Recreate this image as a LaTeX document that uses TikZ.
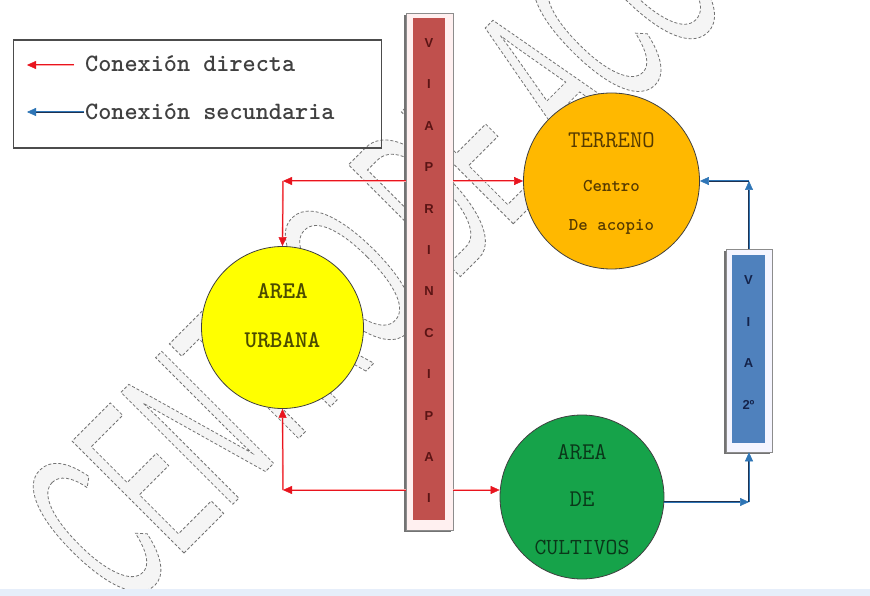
\documentclass[tikz,border=0pt]{standalone}
\usepackage{fontspec}
\setmainfont{Liberation Mono}
\newfontfamily\sansf{Liberation Sans}
\newfontfamily\wmfont[FakeStretch=0.45]{Liberation Sans}
\usetikzlibrary{arrows.meta,shadows}
\definecolor{vpred}{RGB}{192,80,77}
\definecolor{vpletter}{RGB}{90,20,20}
\definecolor{vsblue}{RGB}{79,129,189}
\definecolor{vsletter}{RGB}{20,35,75}
\definecolor{terr}{RGB}{255,184,0}
\definecolor{urb}{RGB}{255,255,0}
\definecolor{cult}{RGB}{22,163,74}
\definecolor{arrred}{RGB}{232,20,30}
\definecolor{arrblue}{RGB}{46,117,182}
\definecolor{navy}{RGB}{30,50,80}
\definecolor{terrtxt}{RGB}{85,58,0}
\definecolor{urbtxt}{RGB}{75,75,0}
\definecolor{culttxt}{RGB}{10,55,25}
\definecolor{bottomband}{RGB}{230,238,250}
\tikzset{
  area/.style={circle, draw=black!75, line width=0.8pt, inner sep=0pt},
  redarrow/.style={draw=red!35, double=arrred, double distance=1pt, line width=0.4pt,
    -{Triangle[length=9pt,width=8pt,fill=arrred,color=arrred]}},
  bluearrow/.style={draw=navy, double=arrblue, double distance=1pt, line width=0.5pt,
    -{Triangle[length=9pt,width=8pt,fill=arrblue,color=arrblue]}},
  barout/.style={rectangle, fill=red!6, draw=black!45, line width=0.6pt, inner sep=0pt,
    drop shadow={shadow xshift=-2pt, shadow yshift=-2pt, fill=black!55, opacity=1}},
  barout2/.style={rectangle, fill=blue!4, draw=black!45, line width=0.6pt, inner sep=0pt,
    drop shadow={shadow xshift=-2pt, shadow yshift=-2pt, fill=black!55, opacity=1}},
  vpletterst/.style={font=\sansf\bfseries\fontsize{13}{13}\selectfont, text=vpletter},
  vsletterst/.style={font=\sansf\bfseries\fontsize{13}{13}\selectfont, text=vsletter},
  legtxt/.style={font=\ttfamily\bfseries\fontsize{25}{25}\selectfont, text=black!75, anchor=west, inner sep=0pt},
  bigtxt/.style={font=\ttfamily\fontsize{24}{24}\selectfont},
  midtxt/.style={font=\ttfamily\bfseries\fontsize{18}{18}\selectfont},
}
\begin{document}
\begin{tikzpicture}[x=1pt,y=-1pt]
\useasboundingbox (0,0) rectangle (870,596);
\clip (0,0) rectangle (870,596);
\fill[white] (0,0) rectangle (870,596);
% watermark
\node[rotate=45, anchor=base west, inner sep=0pt, text=black!4,
  font=\wmfont\fontsize{230}{230}\selectfont] (wm) at (125,612)
  {\special{pdf:literal direct 2 Tr 0.8 w 0.45 G [3 2] 0 d}CENTRO DE ACOPIO\special{pdf:literal direct 0 Tr 1 w [] 0 d}};
% bottom band
\fill[bottomband] (0,589) rectangle (870,596);
% legend
\node[draw=black!70, line width=1.2pt, minimum width=368pt, minimum height=108pt, inner sep=0pt] (leg) at (197.5,94) {};
\coordinate (lr1) at (74,65);
\coordinate (lr2) at (27,65);
\coordinate (lb1) at (84,112);
\coordinate (lb2) at (27,112);
\draw[redarrow] (lr1) -- (lr2);
\draw[bluearrow] (lb1) -- (lb2);
\node[legtxt] (lt1) at (85,64) {Conexión directa};
\node[legtxt] (lt2) at (85,112) {Conexión secundaria};
% via principal
\node[barout, minimum width=47pt, minimum height=517pt] (vpout) at (429.5,271.5) {};
\node[rectangle, fill=vpred, inner sep=0pt, minimum width=32pt, minimum height=502pt] (vp) at (429,269) {};
\foreach \l [count=\i] in {V,I,A,P,R,I,N,C,I,P,A,I}{
  \node[vpletterst] (vpl\i) at (429,{43+41.4*(\i-1)}) {\l};
}
% via secundaria
\node[barout2, minimum width=46pt, minimum height=203pt] (vsout) at (749,350.5) {};
\node[rectangle, fill=vsblue, inner sep=0pt, minimum width=33pt, minimum height=188pt] (vs) at (748.5,348.5) {};
\node[vsletterst] (vs1) at (748.5,280) {V};
\node[vsletterst] (vs2) at (748.5,322) {I};
\node[vsletterst] (vs3) at (748.5,363) {A};
\node[vsletterst] (vs4) at (748.5,405) {2º};
% areas
\node[area, fill=terr, minimum size=176pt] (terr) at (611.5,181) {};
\node[bigtxt, text=terrtxt] (t1) at (611.5,140) {TERRENO};
\node[midtxt, text=terrtxt] (t2) at (611.5,186) {Centro};
\node[midtxt, text=terrtxt] (t3) at (611.5,227) {De acopio};
\node[area, fill=urb, minimum size=162pt] (urb) at (282.5,327.5) {};
\node[bigtxt, font=\ttfamily\bfseries\fontsize{24}{24}\selectfont, text=urbtxt] (u1) at (282.5,291) {AREA};
\node[bigtxt, font=\ttfamily\bfseries\fontsize{24}{24}\selectfont, text=urbtxt] (u2) at (282.5,340) {URBANA};
\node[area, fill=cult, minimum size=164pt] (cult) at (582,497) {};
\node[bigtxt, text=culttxt] (c1) at (582,452) {AREA};
\node[bigtxt, text=culttxt] (c2) at (582,499) {DE};
\node[bigtxt, font=\ttfamily\fontsize{23}{23}\selectfont, text=culttxt] (c3) at (582,547) {CULTIVOS};
% red connections
\coordinate (ul) at (283,181);
\coordinate (bl) at (283,490);
\draw[redarrow] (vpout.west |- ul) -- (ul);
\draw[redarrow] (ul) -- (urb.north);
\draw[redarrow] (vpout.east |- terr.west) -- (terr.west);
\draw[redarrow] (vpout.west |- bl) -- (bl);
\draw[redarrow] (bl) -- (urb.south);
\draw[redarrow] (vpout.east |- bl) -- (bl -| cult.west);
% blue connections
\coordinate (br) at (749,502);
\coordinate (tr) at (749,181);
\draw[bluearrow] (br -| cult.east) -- (br);
\draw[bluearrow] (br) -- (vsout.south);
\draw[bluearrow] (vsout.north) -- (tr);
\draw[bluearrow] (tr) -- (terr.east);
\end{tikzpicture}
\end{document}
